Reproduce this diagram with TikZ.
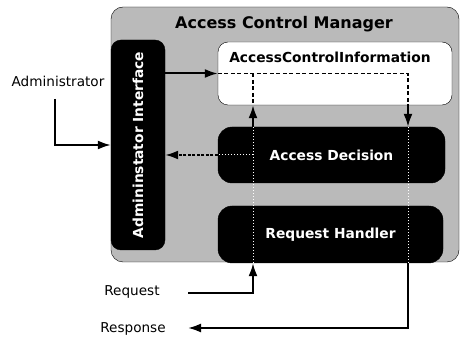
\documentclass[tikz,border=0pt]{standalone}
\usepackage{fontspec}
\setmainfont{DejaVu Sans}
\usepackage{xcolor}
\usetikzlibrary{arrows.meta}
\definecolor{acmgray}{RGB}{186,186,186}

\begin{document}
\begin{tikzpicture}[x=1pt, y=-1pt, font=\fontsize{13.6}{16}\selectfont,
        box/.style={draw=black, rounded corners=14pt, inner sep=0pt},
        blackbox/.style={box, fill=black, text=white, font=\fontsize{13.8}{16}\selectfont\bfseries},
        arr/.style={line width=2pt, -{Latex[length=13pt,width=9pt]}},
        flow/.style={line width=1.6pt, dash pattern=on 4pt off 2.5pt},
        pass/.style={white, line width=1pt, dash pattern=on 1.2pt off 1.8pt}]
        \useasboundingbox (0,0) rectangle (461,339);

        % outer manager box
        \node[box, rounded corners=12pt, fill=acmgray, minimum width=348pt, minimum height=255pt, name=acm] at (285,134.5) {};
        \node[font=\fontsize{16}{18}\selectfont\bfseries, name=acmt] at (284,24) {Access Control Manager};

        \node[blackbox, rounded corners=10pt, minimum width=54pt, minimum height=210pt, name=ai] at (138,145) {\rotatebox{90}{Admininstator Interface}};
        \node[box, rounded corners=10pt, fill=white, minimum width=234pt, minimum height=63pt, name=aci] at (335,73.5) {};
        \node[font=\fontsize{13.8}{16}\selectfont\bfseries, name=acit] at (330,57) {AccessControlInformation};
        \node[blackbox, minimum width=227pt, minimum height=56pt, name=ad] at (331.5,155) {Access Decision};
        \node[blackbox, minimum width=225pt, minimum height=57pt, name=rh] at (330.5,234.5) {Request Handler};

        % outside labels
        \node[name=admin] at (58,81) {Administrator};
        \node[name=req] at (132,292) {Request};
        \node[name=resp] at (133,329) {Response};

        \coordinate (qx) at (253,0);
        \coordinate (px) at (408,0);
        \coordinate (admtop) at (55,99);
        \coordinate (reqin) at (188,293);
        \coordinate (respin) at (188,328);

        % connectors
        \draw[arr] (admtop) |- (ai.west);
        \draw[arr] (ai.east |- aci.west) -- (aci.west);
        \draw[flow] (aci.west) -| (px |- aci.south);
        \draw[flow] (qx |- aci.west) -- (qx |- aci.south);
        \draw[arr] (px |- aci.south) -- (px |- ad.north);
        \draw[arr] (qx |- ad.north) -- (qx |- aci.south);
        \draw[pass] (qx |- ad.north) -- (qx |- rh.south);
        \draw[pass] (px |- ad.north) -- (px |- rh.south);
        \draw[pass] (qx |- ad.west) -- (ad.west);
        \draw[arr, dash pattern=on 3pt off 1.5pt] (ad.west) -- (ai.east |- ad.west);
        \draw[arr] (reqin) -| (qx |- rh.south);
        \draw[arr] (px |- rh.south) |- (respin);
    \end{tikzpicture}
\end{document}
